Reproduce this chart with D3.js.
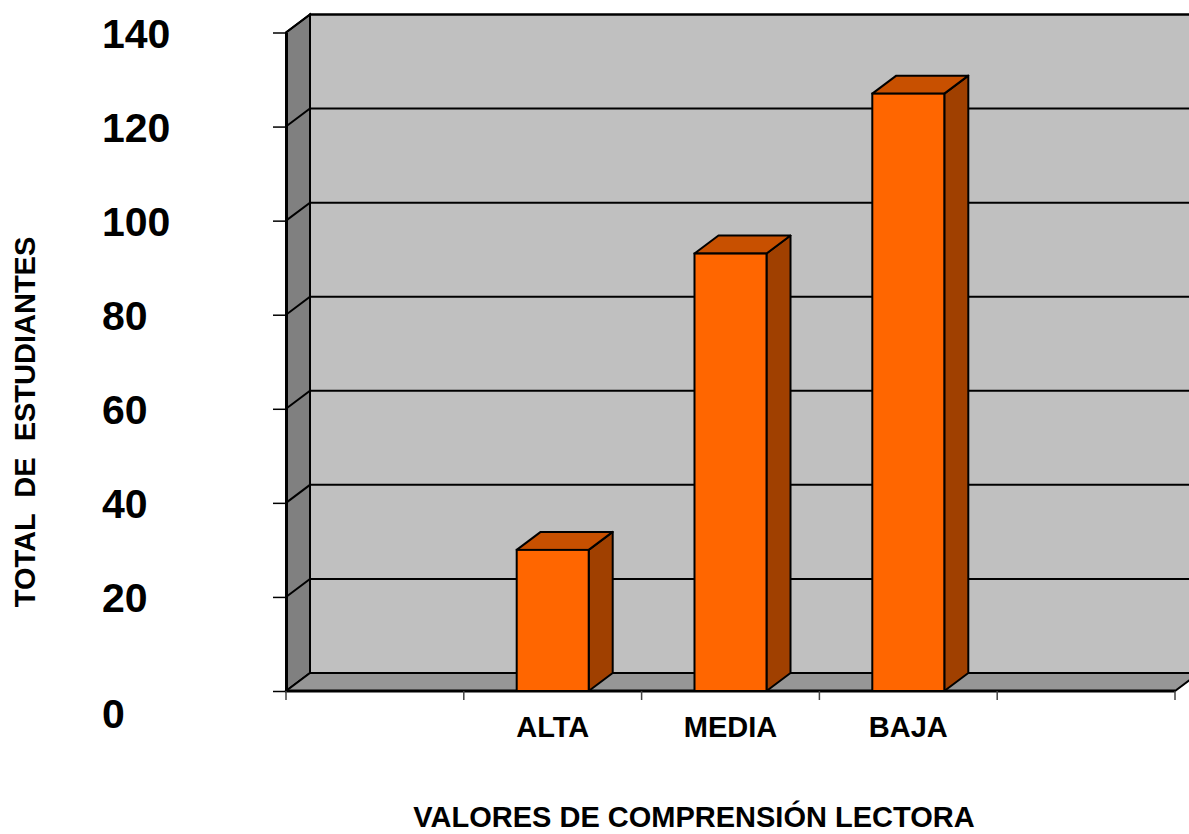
<!DOCTYPE html>
<html>
<head>
<meta charset="utf-8">
<script src="https://cdn.jsdelivr.net/npm/d3@7"></script>
<style>
  html, body { margin: 0; padding: 0; background: #ffffff; }
  svg { display: block; }
  text { font-family: "Liberation Sans", Arial, sans-serif; font-weight: bold; fill: #000; white-space: pre; }
</style>
</head>
<body>
<svg id="chart" width="1189" height="834"></svg>
<script>
// Category slots (first and last are empty slots on the axis)
const categories = ["", "ALTA", "MEDIA", "BAJA", ""];
const values = [null, 30, 93, 127, null];
const yTicks = [0, 20, 40, 60, 80, 100, 120, 140];
const yTitle = "TOTAL  DE  ESTUDIANTES";
const xTitle = "VALORES DE COMPRENSIÓN LECTORA";

const svg = d3.select("#chart");

// Plot geometry and 3D depth offset
const plotLeft = 286, plotRight = 1175, plotBottom = 691, plotTop = 32.5;
const dx = 24, dy = -18;
const wallExtra = 40;

const x = d3.scaleBand().domain(d3.range(categories.length)).range([plotLeft, plotRight]).padding(0);
const y = d3.scaleLinear().domain([0, 140]).range([plotBottom, plotTop]);
const barW = x.bandwidth() * 0.405;

const colors = {
  backWall: "#c0c0c0",
  sideWall: "#808080",
  floor: "#969696",
  front: "#ff6600",
  top: "#c85000",
  side: "#a04000"
};

const pts = p => p.map(d => d.join(",")).join(" ");

// Back wall
svg.append("polygon")
  .attr("points", pts([[plotLeft + dx, y(140) + dy], [plotRight + dx + wallExtra, y(140) + dy], [plotRight + dx + wallExtra, y(0) + dy], [plotLeft + dx, y(0) + dy]]))
  .attr("fill", colors.backWall).attr("stroke", "#000").attr("stroke-width", 2);

// Left wall
svg.append("polygon")
  .attr("points", pts([[plotLeft, y(0)], [plotLeft, y(140)], [plotLeft + dx, y(140) + dy], [plotLeft + dx, y(0) + dy]]))
  .attr("fill", colors.sideWall).attr("stroke", "#000").attr("stroke-width", 2);

// Floor
svg.append("polygon")
  .attr("points", pts([[plotLeft, y(0)], [plotRight, y(0)], [plotRight + dx, y(0) + dy], [plotRight + dx + wallExtra, y(0) + dy], [plotLeft + dx, y(0) + dy]]))
  .attr("fill", colors.floor).attr("stroke", "#000").attr("stroke-width", 2);

// Gridlines across left wall and back wall
svg.append("g").selectAll("polyline")
  .data(yTicks.filter(v => v > 0))
  .join("polyline")
  .attr("points", v => pts([[plotLeft, y(v)], [plotLeft + dx, y(v) + dy], [plotRight + dx + wallExtra, y(v) + dy]]))
  .attr("fill", "none").attr("stroke", "#000").attr("stroke-width", 2);

// Floor front edge
svg.append("line")
  .attr("x1", plotLeft).attr("x2", plotRight).attr("y1", y(0)).attr("y2", y(0))
  .attr("stroke", "#000").attr("stroke-width", 3);

// Y axis: ticks and labels
const yAxis = d3.axisLeft(y).tickValues(yTicks).tickSize(13).tickSizeOuter(0);
const yg = svg.append("g").attr("transform", `translate(${plotLeft},0)`).call(yAxis);
yg.select(".domain").attr("stroke", "#000").attr("stroke-width", 3);
yg.selectAll(".tick line").attr("stroke", "#000").attr("stroke-width", 1.5);
yg.selectAll(".tick text")
  .attr("x", 102 - plotLeft)
  .attr("dy", d => d === 0 ? "0.9em" : "0.36em")
  .attr("text-anchor", "start")
  .style("font-size", "41px")
  .style("font-family", "'Liberation Sans', Arial, sans-serif")
  .style("font-weight", "bold")
  .attr("fill", "#000");

// X axis: ticks at slot boundaries and category labels
const bounds = d3.range(categories.length + 1).map(i => plotLeft + i * x.step());
svg.append("g").selectAll("line")
  .data(bounds)
  .join("line")
  .attr("x1", d => d).attr("x2", d => d)
  .attr("y1", y(0)).attr("y2", y(0) + 9)
  .attr("stroke", "#444").attr("stroke-width", 1.5);

svg.append("g").selectAll("text")
  .data(categories.map((c, i) => ({ c, i })).filter(d => d.c))
  .join("text")
  .attr("x", d => x(d.i) + x.bandwidth() / 2)
  .attr("y", 737)
  .attr("text-anchor", "middle")
  .style("font-size", "29px")
  .text(d => d.c);

// 3D bars
const bars = categories.map((c, i) => ({ c, i, v: values[i] })).filter(d => d.v != null);
const bg = svg.append("g");
bars.forEach(d => {
  const x0 = x(d.i) + (x.bandwidth() - barW) / 2;
  const x1 = x0 + barW;
  const yt = y(d.v), yb = y(0);
  const g = bg.append("g");
  g.append("polygon")
    .attr("points", pts([[x1, yb], [x1, yt], [x1 + dx, yt + dy], [x1 + dx, yb + dy]]))
    .attr("fill", colors.side).attr("stroke", "#000").attr("stroke-width", 2).attr("stroke-linejoin", "round");
  g.append("polygon")
    .attr("points", pts([[x0, yt], [x1, yt], [x1 + dx, yt + dy], [x0 + dx, yt + dy]]))
    .attr("fill", colors.top).attr("stroke", "#000").attr("stroke-width", 2).attr("stroke-linejoin", "round");
  g.append("rect")
    .attr("x", x0).attr("y", yt).attr("width", barW).attr("height", yb - yt)
    .attr("fill", colors.front).attr("stroke", "#000").attr("stroke-width", 2);
});

// Axis titles
svg.append("text")
  .attr("transform", "translate(35,422) rotate(-90)")
  .attr("text-anchor", "middle")
  .attr("xml:space", "preserve")
  .style("font-size", "29px")
  .text(yTitle);

svg.append("text")
  .attr("x", 694).attr("y", 827)
  .attr("text-anchor", "middle")
  .style("font-size", "29px")
  .text(xTitle);
</script>
</body>
</html>
